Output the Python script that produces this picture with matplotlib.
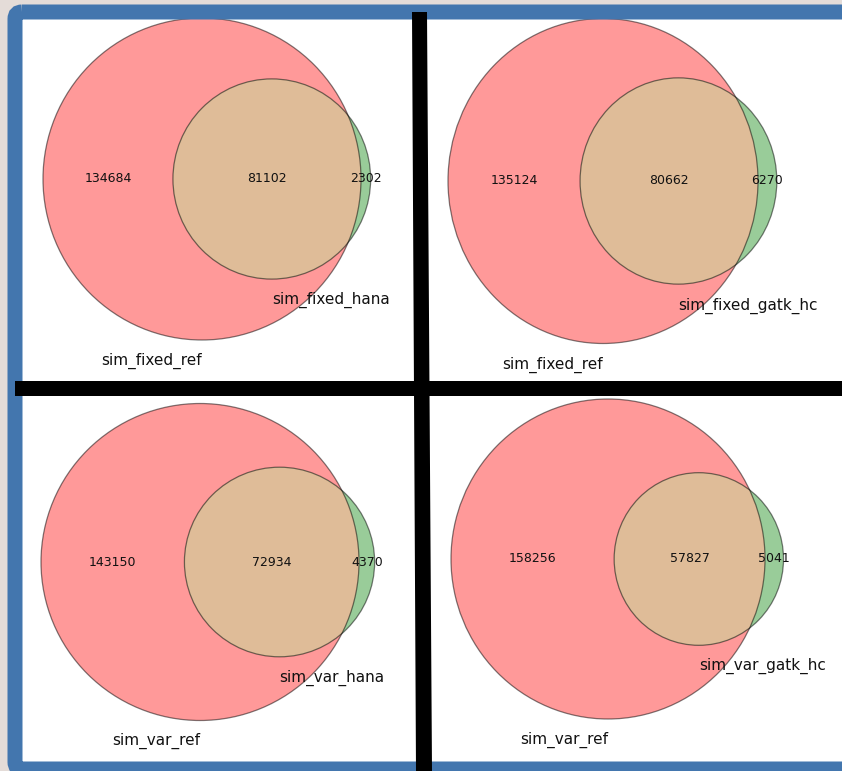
import numpy as np
import matplotlib
matplotlib.use("Agg")
import matplotlib.pyplot as plt
from matplotlib.patches import Circle, Polygon, FancyBboxPatch, Rectangle

# ---- data -------------------------------------------------------------
panel_names = ["fixed_hana", "fixed_gatk", "var_hana", "var_gatk"]
set_a_labels = ["sim_fixed_ref", "sim_fixed_ref", "sim_var_ref", "sim_var_ref"]
set_b_labels = ["sim_fixed_hana", "sim_fixed_gatk_hc", "sim_var_hana", "sim_var_gatk_hc"]
a_only = [134684, 135124, 143150, 158256]
both = [81102, 80662, 72934, 57827]
b_only = [2302, 6270, 4370, 5041]

# ---- layout (pixel anchors of circle A and px-per-unit scales) --------
W, H = 842, 771
anchors = [  # cx, cy, radius-A in px along x, along y
    (202, 179, 159, 161),
    (603, 181, 155, 162.5),
    (200, 562, 159, 158.5),
    (608, 559, 157, 160),
]

COL_A = "#ff9999"
COL_B = "#99cc99"
COL_AB = "#dfbc98"
EDGE = (0, 0, 0, 0.5)


def inter_area(d, r1, r2):
    if d >= r1 + r2:
        return 0.0
    if d <= abs(r1 - r2):
        return np.pi * min(r1, r2) ** 2
    a1 = r1 ** 2 * np.arccos((d * d + r1 * r1 - r2 * r2) / (2 * d * r1))
    a2 = r2 ** 2 * np.arccos((d * d + r2 * r2 - r1 * r1) / (2 * d * r2))
    a3 = 0.5 * np.sqrt((-d + r1 + r2) * (d + r1 - r2) * (d - r1 + r2) * (d + r1 + r2))
    return a1 + a2 - a3


def solve_d(r1, r2, target):
    lo, hi = abs(r1 - r2), r1 + r2
    for _ in range(200):
        mid = (lo + hi) / 2
        if inter_area(mid, r1, r2) > target:
            lo = mid
        else:
            hi = mid
    return (lo + hi) / 2


fig = plt.figure(figsize=(W / 100, H / 100), dpi=100)
fig.patch.set_facecolor("#e4dcd8")

# background: white area inside frame
bg = fig.add_axes([0, 0, 1, 1], zorder=0)
bg.set_xlim(0, W)
bg.set_ylim(H, 0)
bg.axis("off")
bg.add_patch(Rectangle((15, 12), 900, 800, facecolor="white", edgecolor="none"))

for i in range(4):
    A = a_only[i] + both[i]
    B = b_only[i] + both[i]
    total = A + b_only[i]
    rA = np.sqrt(A / total / np.pi)
    rB = np.sqrt(B / total / np.pi)
    d = solve_d(rA, rB, both[i] / total)

    cx, cy, rpx, rpy = anchors[i]
    sx, sy = rpx / rA, rpy / rA
    ax = fig.add_axes([0, 0, 1, 1], zorder=1)
    ax.patch.set_alpha(0)
    ax.set_xlim((0 - cx) / sx, (W - cx) / sx)
    ax.set_ylim(-(H - cy) / sy, cy / sy)
    ax.axis("off")

    ca = (0.0, 0.0)
    cb = (d, 0.0)
    pa = Circle(ca, rA, facecolor=COL_A, edgecolor="none")
    pb = Circle(cb, rB, facecolor=COL_B, edgecolor="none")
    ax.add_patch(pa)
    ax.add_patch(pb)
    clipA = Circle(ca, rA, transform=ax.transData, facecolor="none", edgecolor="none")
    pab = Circle(cb, rB, facecolor=COL_AB, edgecolor="none")
    ax.add_patch(pab)
    pab.set_clip_path(clipA)
    ax.add_patch(Circle(ca, rA, facecolor="none", edgecolor=EDGE, lw=0.9))
    ax.add_patch(Circle(cb, rB, facecolor="none", edgecolor=EDGE, lw=0.9))

    # region labels
    x_a = (ca[0] - rA + cb[0] - rB) / 2
    x_ab = (cb[0] - rB + ca[0] + rA) / 2
    x_b = (ca[0] + rA + cb[0] + rB) / 2
    for xx, val in [(x_a, a_only[i]), (x_ab, both[i]), (x_b, b_only[i])]:
        ax.text(xx, 0, str(val), ha="center", va="center", fontsize=9, color="#111111")

    pad_y = 0.1 * (rA + rB) / 2
    ax.text(ca[0], -rA - pad_y, set_a_labels[i], ha="right", va="top",
            fontsize=11, color="#111111")
    ax.text(cb[0], -rB - pad_y, set_b_labels[i], ha="left", va="top",
            fontsize=11, color="#111111")

# overlay: blue frame and black separators
ov = fig.add_axes([0, 0, 1, 1], zorder=10)
ov.patch.set_alpha(0)
ov.set_xlim(0, W)
ov.set_ylim(H, 0)
ov.axis("off")
ov.add_patch(FancyBboxPatch((15, 12), 860, 757,
                            boxstyle="round,pad=0,rounding_size=7",
                            facecolor="none", edgecolor="#4376ae", lw=10.8))
ov.add_patch(Polygon([(412, 12), (427, 12), (432, H), (416, H)],
                     closed=True, facecolor="black", edgecolor="none"))
ov.add_patch(Polygon([(15, 381), (W, 381), (W, 396), (15, 396)],
                     closed=True, facecolor="black", edgecolor="none"))

fig.savefig("out.png", dpi=100, facecolor=fig.get_facecolor())
